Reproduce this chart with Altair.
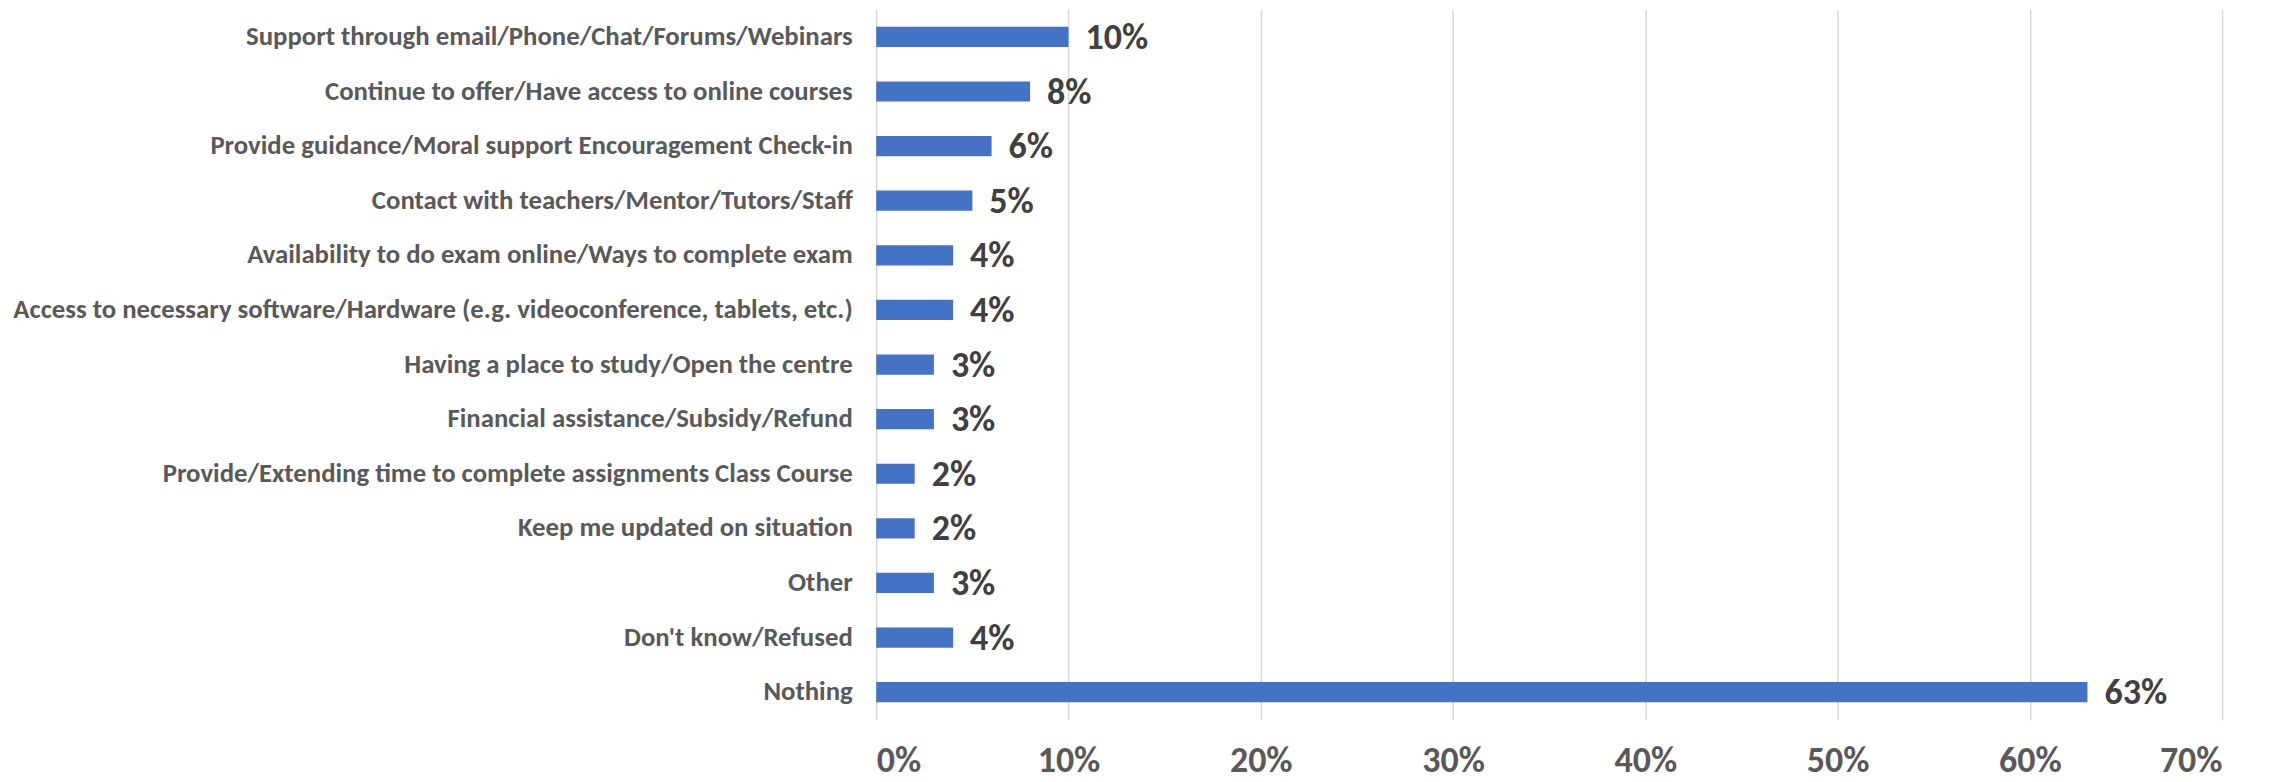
import altair as alt
import pandas as pd

categories = [
    "Support through email/Phone/Chat/Forums/Webinars",
    "Continue to offer/Have access to online courses",
    "Provide guidance/Moral support Encouragement Check-in",
    "Contact with teachers/Mentor/Tutors/Staff",
    "Availability to do exam online/Ways to complete exam",
    "Access to necessary software/Hardware (e.g. videoconference, tablets, etc.)",
    "Having a place to study/Open the centre",
    "Financial assistance/Subsidy/Refund",
    "Provide/Extending time to complete assignments Class Course",
    "Keep me updated on situation",
    "Other",
    "Don't know/Refused",
    "Nothing",
]
values = [10, 8, 6, 5, 4, 4, 3, 3, 2, 2, 3, 4, 63]
x_ticks = [0, 10, 20, 30, 40, 50, 60, 70]

df = pd.DataFrame({"cat": categories, "val": [v / 100 for v in values],
                   "label": [f"{v}%" for v in values]})

FONT = "Calibri, Carlito, Lato, sans-serif"

y_enc = alt.Y("cat:N", sort=categories, title=None,
              scale=alt.Scale(paddingInner=0.63, paddingOuter=0.32),
              axis=alt.Axis(labelFont=FONT, labelFontSize=26.8, labelFontWeight="bold",
                            labelColor="#595959", labelPadding=24, ticks=False,
                            domain=False, labelLimit=1000))
x_enc = alt.X("val:Q", title=None,
              scale=alt.Scale(domain=[0, 0.7], nice=False),
              axis=alt.Axis(values=[t / 100 for t in x_ticks], format=".0%",
                            labelFont=FONT, labelFontSize=36, labelFontWeight="bold",
                            labelColor="#595959", labelPadding=24, ticks=False,
                            domain=False, grid=True, gridColor="#D9D9D9",
                            gridWidth=1.5))

bars = alt.Chart(df).mark_bar(color="#4472C4").encode(x=x_enc, y=y_enc)
text = alt.Chart(df).mark_text(align="left", baseline="middle", dx=17, dy=1,
                               font=FONT, fontSize=36, fontWeight="bold",
                               color="#404040").encode(
    x="val:Q", y=alt.Y("cat:N", sort=categories), text="label:N")

chart = (bars + text).properties(
    width=1347, height=711,
    background="white",
    autosize=alt.AutoSizeParams(type="none"),
    padding={"left": 869, "top": 1, "right": 50, "bottom": 62},
).configure_view(strokeWidth=0, stroke="transparent")

chart.save("out.html", embed_options={"renderer": "svg", "actions": False})
